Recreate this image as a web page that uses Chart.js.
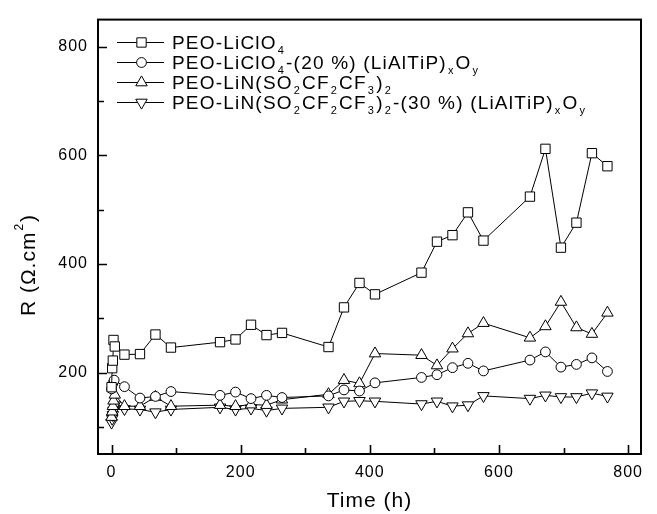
<!DOCTYPE html>
<html>
<head>
<meta charset="utf-8">
<script src="https://cdn.jsdelivr.net/npm/chart.js@4.4.1/dist/chart.umd.min.js"></script>
<style>
  html, body { margin: 0; padding: 0; background: #fff; }
  #wrap { width: 657px; height: 514px; }
</style>
</head>
<body>
<div id="wrap"><canvas id="chart" width="657" height="514"></canvas></div>
<script>
// PEO-LiClO4 (squares)
const timeClo4 = [0, 1, 2, 3, 5, 20, 44, 68, 92, 168, 192, 216, 240, 264, 336, 360, 384, 408, 480, 504, 528, 552, 576, 648, 672, 696, 720, 744, 768];
const rClo4 = [173, 208, 222, 260, 248, 233, 234, 270, 246, 256, 261, 288, 269, 273, 247, 320, 365, 344, 384, 441, 453, 495, 443, 524, 612, 430, 476, 604, 580];

// PEO-LiClO4-(20 %) (LiAlTiP)xOy (circles)
const timeClo4Glass = [0, 2, 4, 20, 44, 68, 92, 168, 192, 216, 240, 264, 336, 360, 384, 408, 480, 504, 528, 552, 576, 648, 672, 696, 720, 744, 768];
const rClo4Glass = [170, 180, 186, 174, 153, 156, 165, 158, 164, 152, 158, 154, 157, 168, 166, 181, 191, 196, 209, 217, 203, 223, 238, 210, 215, 227, 202];

// PEO-LiN(SO2CF2CF3)2 (up triangles) and with 30 % glass (down triangles)
const timeBeti = [0, 1, 2, 3, 5, 20, 44, 68, 92, 168, 192, 216, 240, 264, 336, 360, 384, 408, 480, 504, 528, 552, 576, 648, 672, 696, 720, 744, 768];
const rBeti = [118, 128, 138, 148, 159, 138, 138, 155, 138, 140, 138, 141, 140, 150, 160, 186, 180, 235, 232, 213, 244, 272, 291, 264, 285, 330, 283, 271, 310];
const rBetiGlass = [108, 115, 122, 130, 140, 133, 132, 127, 132, 136, 132, 134, 130, 134, 136, 147, 148, 147, 142, 147, 138, 140, 157, 152, 158, 155, 155, 162, 156];

// legend text, "_" marks a one-character subscript
const seriesNames = [
  'PEO-LiClO_4',
  'PEO-LiClO_4-(20 %) (LiAlTiP)_xO_y',
  'PEO-LiN(SO_2CF_2CF_3)_2',
  'PEO-LiN(SO_2CF_2CF_3)_2-(30 %) (LiAlTiP)_xO_y'
];
const xTickValues = [0, 200, 400, 600, 800];
const xMinorValues = [100, 300, 500, 700];
const yTickValues = [200, 400, 600, 800];
const yMinorValues = [100, 300, 500, 700];

const FONT = "'Liberation Sans', Arial, Helvetica, sans-serif";

function pts(xs, ys) {
  return xs.map((x, i) => ({ x: x, y: ys[i] }));
}

const markers = [
  { pointStyle: 'rect', pointRadius: 6.6, rotation: 0 },
  { pointStyle: 'circle', pointRadius: 4.9, rotation: 0 },
  { pointStyle: 'triangle', pointRadius: 6.6, rotation: 0 },
  { pointStyle: 'triangle', pointRadius: 6.6, rotation: 180 }
];

const seriesData = [
  pts(timeClo4, rClo4),
  pts(timeClo4Glass, rClo4Glass),
  pts(timeBeti, rBeti),
  pts(timeBeti, rBetiGlass)
];

const datasets = seriesData.map((d, i) => ({
  label: seriesNames[i].replace(/_/g, ''),
  data: d,
  borderColor: '#000',
  borderWidth: 1,
  pointStyle: markers[i].pointStyle,
  pointRadius: markers[i].pointRadius,
  pointRotation: markers[i].rotation,
  pointBackgroundColor: '#fff',
  pointBorderColor: '#000',
  pointBorderWidth: 1,
  pointHoverRadius: markers[i].pointRadius,
  tension: 0,
  fill: false
}));

// draws text where "_c" is a subscript character
function drawRich(ctx, str, x, y, size, subSize, subDrop) {
  let cx = x;
  for (let i = 0; i < str.length; i++) {
    const ch = str[i];
    if (ch === '_') {
      const s = str[++i];
      ctx.font = subSize + 'px ' + FONT;
      ctx.fillText(s, cx + 1, y + subDrop);
      cx += ctx.measureText(s).width + 2;
    } else {
      ctx.font = size + 'px ' + FONT;
      ctx.fillText(ch, cx, y);
      cx += ctx.measureText(ch).width;
    }
  }
}

const framePlugin = {
  id: 'frame',
  beforeDraw(chart) {
    try { chart.ctx.letterSpacing = '1px'; } catch (e) {}
  },
  afterDatasetsDraw(chart) {
    const ctx = chart.ctx;
    const a = chart.chartArea;
    const xs = chart.scales.x, ys = chart.scales.y;
    ctx.save();
    ctx.strokeStyle = '#000';
    ctx.lineWidth = 1.6;
    ctx.beginPath();
    xTickValues.forEach(v => {
      const p = Math.round(xs.getPixelForValue(v)) + 0.5;
      ctx.moveTo(p, a.bottom); ctx.lineTo(p, a.bottom - 9);
    });
    xMinorValues.forEach(v => {
      const p = Math.round(xs.getPixelForValue(v)) + 0.5;
      ctx.moveTo(p, a.bottom); ctx.lineTo(p, a.bottom - 6);
    });
    yTickValues.forEach(v => {
      const p = Math.round(ys.getPixelForValue(v)) + 0.5;
      ctx.moveTo(a.left, p); ctx.lineTo(a.left + 9, p);
    });
    yMinorValues.forEach(v => {
      const p = Math.round(ys.getPixelForValue(v)) + 0.5;
      ctx.moveTo(a.left, p); ctx.lineTo(a.left + 6, p);
    });
    ctx.stroke();
    ctx.lineWidth = 2;
    ctx.strokeRect(a.left, a.top, a.right - a.left, a.bottom - a.top);

    // legend
    ctx.letterSpacing = '1.2px';
    ctx.fillStyle = '#000';
    ctx.textBaseline = 'alphabetic';
    ctx.textAlign = 'left';
    seriesNames.forEach((name, i) => {
      const cy = 42 + 20 * i;
      ctx.lineWidth = 1;
      ctx.beginPath();
      ctx.moveTo(117, cy + 0.5); ctx.lineTo(164, cy + 0.5);
      ctx.stroke();
      ctx.fillStyle = '#fff';
      ctx.lineWidth = 1;
      Chart.helpers.drawPoint(ctx, {
        pointStyle: markers[i].pointStyle,
        radius: markers[i].pointRadius,
        rotation: markers[i].rotation,
        borderWidth: 1
      }, 141.5, cy + 0.5);
      ctx.fillStyle = '#000';
      drawRich(ctx, name, 172, cy + 7, 19, 11, 5);
    });

    // y-axis title
    ctx.letterSpacing = '1px';
    ctx.translate(29, 265);
    ctx.rotate(-Math.PI / 2);
    ctx.font = '21px ' + FONT;
    const main = 'R (\u03A9.cm';
    const w1 = ctx.measureText(main).width;
    ctx.font = '12px ' + FONT;
    const w2 = ctx.measureText('2').width + 2;
    ctx.font = '21px ' + FONT;
    const w3 = ctx.measureText(')').width;
    let sx = -(w1 + w2 + w3) / 2;
    ctx.textBaseline = 'middle';
    ctx.fillText(main, sx, 0);
    ctx.font = '12px ' + FONT;
    ctx.fillText('2', sx + w1 + 1, -9);
    ctx.font = '21px ' + FONT;
    ctx.fillText(')', sx + w1 + w2, 0);
    ctx.restore();
  }
};

new Chart(document.getElementById('chart'), {
  type: 'line',
  data: { datasets: datasets },
  options: {
    responsive: false,
    animation: false,
    events: [],
    layout: { padding: { top: 15, right: 16, left: 0, bottom: 0 } },
    plugins: {
      legend: { display: false },
      tooltip: { enabled: false }
    },
    scales: {
      x: {
        type: 'linear',
        min: -21,
        max: 820,
        grid: { display: false, drawTicks: false },
        border: { display: false },
        afterBuildTicks: s => { s.ticks = xTickValues.map(v => ({ value: v })); },
        afterFit: s => { s.height = 60; },
        ticks: {
          color: '#000',
          padding: 9,
          maxRotation: 0,
          font: { family: FONT, size: 16 }
        },
        title: {
          display: true,
          text: 'Time (h)',
          color: '#000',
          padding: { top: 0, bottom: 0 },
          font: { family: FONT, size: 21 }
        }
      },
      y: {
        type: 'linear',
        min: 50,
        max: 850,
        grid: { display: false, drawTicks: false },
        border: { display: false },
        afterBuildTicks: s => { s.ticks = yTickValues.map(v => ({ value: v })); },
        afterFit: s => { s.width = 98; },
        ticks: {
          color: '#000',
          padding: 10,
          font: { family: FONT, size: 16 }
        }
      }
    }
  },
  plugins: [framePlugin]
});
</script>
</body>
</html>
